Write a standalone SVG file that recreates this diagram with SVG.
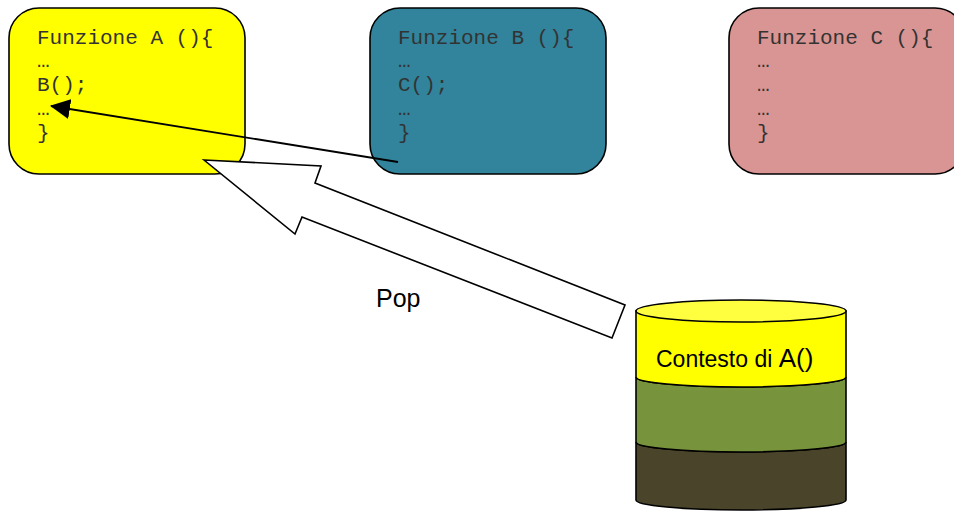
<svg xmlns="http://www.w3.org/2000/svg" width="954" height="512" viewBox="0 0 954 512">
<defs>
<style>
.box{stroke:#000;stroke-width:1.6}
.code{font-family:"Liberation Mono","Courier New",monospace;font-size:21px;fill:#333}
.lbl{font-family:"Liberation Sans",Arial,sans-serif;fill:#000}
.cyl{stroke:#000;stroke-width:1.6}
</style>
<marker id="ah" markerWidth="20" markerHeight="20" viewBox="0 0 20 20" refX="19" refY="10" orient="auto" markerUnits="userSpaceOnUse">
<path d="M0,0 L20,10 L0,20 Z" fill="#000"/>
</marker>
</defs>
<rect width="954" height="512" fill="#fff"/>
<g id="funzioneA">
<rect class="box" x="9" y="8" width="236" height="166" rx="30" fill="#ffff00"/>
<text class="code" x="37" y="44">Funzione A (){</text>
<text class="code" x="37" y="67">…</text>
<text class="code" x="37" y="91">B();</text>
<text class="code" x="37" y="115">…</text>
<text class="code" x="37" y="139">}</text>
</g>
<g id="funzioneB">
<rect class="box" x="370" y="8" width="236" height="166" rx="30" fill="#31849b"/>
<text class="code" x="398" y="44">Funzione B (){</text>
<text class="code" x="398" y="67">…</text>
<text class="code" x="398" y="91">C();</text>
<text class="code" x="398" y="115">…</text>
<text class="code" x="398" y="139">}</text>
</g>
<g id="funzioneC">
<rect class="box" x="729" y="8" width="236" height="166" rx="30" fill="#d99594"/>
<text class="code" x="757" y="44">Funzione C (){</text>
<text class="code" x="757" y="67">…</text>
<text class="code" x="757" y="91">…</text>
<text class="code" x="757" y="115">…</text>
<text class="code" x="757" y="139">}</text>
</g>
<g id="stack">
<path class="cyl" d="M636,442 A105,10 0 0 0 846,442 L846,500 A105,10 0 0 1 636,500 Z" fill="#4a452a"/>
<path class="cyl" d="M636,377 A105,10 0 0 0 846,377 L846,442 A105,10 0 0 1 636,442 Z" fill="#77933c"/>
<path class="cyl" d="M636,311 L636,377 A105,10 0 0 0 846,377 L846,311 Z" fill="#ffff00"/>
<ellipse class="cyl" cx="741" cy="311" rx="105" ry="11" fill="#ffff40"/>
<text class="lbl" x="656" y="367"><tspan font-size="23">Contesto di </tspan><tspan font-size="26">A()</tspan></text>
</g>
<g id="connectors">
<path id="pop-arrow" d="M204,160 L321,166 L315,183 L625,305 L612,338 L302,217 L295,234 Z" fill="#fff" stroke="#000" stroke-width="1.6" stroke-linejoin="miter"/>
<line x1="398" y1="162" x2="51" y2="106" stroke="#000" stroke-width="1.8" marker-end="url(#ah)"/>
<text class="lbl" x="376" y="307" font-size="25">Pop</text>
</g>
</svg>
